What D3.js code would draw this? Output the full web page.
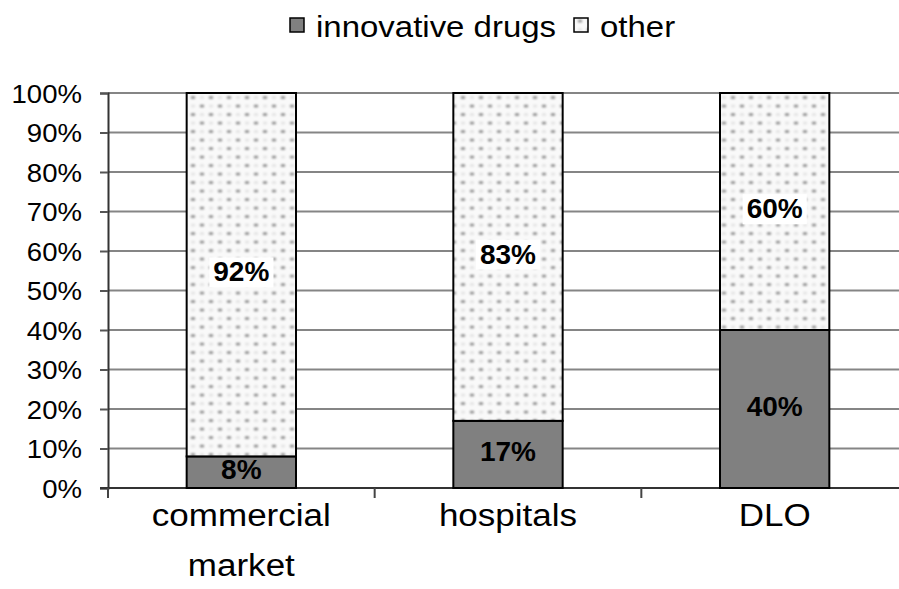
<!DOCTYPE html>
<html>
<head>
<meta charset="utf-8">
<script src="https://cdn.jsdelivr.net/npm/d3@7"></script>
<style>
  html, body { margin: 0; padding: 0; background: #fff; }
  svg { display: block; font-family: "Liberation Sans", Arial, sans-serif; }
</style>
</head>
<body>
<svg id="chart" width="899" height="589"></svg>
<script>
// Share of sales by channel (percent)
const categories = [["commercial", "market"], ["hospitals"], ["DLO"]];
const innovative = [8, 17, 40];
const other = [92, 83, 60];
const seriesNames = ["innovative drugs", "other"];
const yTicks = [0, 10, 20, 30, 40, 50, 60, 70, 80, 90, 100];

const svg = d3.select("#chart");
const W = 899, H = 589;
const plot = { left: 108, right: 908, top: 93, bottom: 488 };

// dotted fill for the "other" segment
const defs = svg.append("defs");
const blur = defs.append("filter").attr("id", "soft").attr("x", "-50%").attr("y", "-50%").attr("width", "200%").attr("height", "200%");
blur.append("feGaussianBlur").attr("stdDeviation", 0.9);
const pat = defs.append("pattern").attr("id", "dots")
  .attr("patternUnits", "userSpaceOnUse").attr("width", 18).attr("height", 17);
pat.append("rect").attr("width", 18).attr("height", 17).attr("fill", "#f9f9f9");
const dotG = pat.append("g").attr("filter", "url(#soft)");
[[4, 4], [13, 12.5]].forEach(([cx, cy]) => {
  dotG.append("ellipse").attr("cx", cx).attr("cy", cy).attr("rx", 2.4).attr("ry", 1.6).attr("fill", "#909090");
});
[[13, 4], [4, 12.5]].forEach(([cx, cy]) => {
  dotG.append("ellipse").attr("cx", cx).attr("cy", cy).attr("rx", 2.2).attr("ry", 1.5).attr("fill", "#e2e2e2");
});

const x = d3.scaleBand()
  .domain(d3.range(categories.length))
  .range([plot.left, plot.right])
  .paddingInner(0.59).paddingOuter(0.295);
const y = d3.scaleLinear().domain([0, 100]).range([plot.bottom, plot.top]);

// horizontally widened text helper
function stretched(sel, sx) {
  sel.attr("transform", function () {
    const t = d3.select(this);
    const tx = +t.attr("x"), ty = +t.attr("y");
    return `translate(${tx},${ty}) scale(${sx},1) translate(${-tx},${-ty})`;
  });
}

// gridlines
svg.append("g").selectAll("line").data(yTicks.filter(d => d > 0)).join("line")
  .attr("x1", plot.left).attr("x2", W)
  .attr("y1", d => y(d)).attr("y2", d => y(d))
  .attr("stroke", "#858585").attr("stroke-width", 2);

// y axis
const yAxis = svg.append("g").attr("transform", `translate(${plot.left},0)`)
  .call(d3.axisLeft(y).tickValues(yTicks).tickSize(8).tickPadding(18).tickFormat(d => d + "%"));
yAxis.select(".domain").attr("stroke", "#333").attr("stroke-width", 2);
yAxis.selectAll(".tick line").attr("stroke", "#555").attr("stroke-width", 2);
yAxis.selectAll(".tick text").attr("font-size", 26).attr("fill", "#000")
  .attr("font-family", "Liberation Sans, Arial, sans-serif").attr("dy", "0.36em")
  .attr("x", -26).attr("y", 0).call(stretched, 1.06);

// x axis baseline and category separators
const bounds = d3.range(categories.length + 1).map(i => plot.left + i * x.step());
svg.append("line").attr("x1", plot.left - 8).attr("x2", W)
  .attr("y1", plot.bottom).attr("y2", plot.bottom)
  .attr("stroke", "#333").attr("stroke-width", 2);
svg.append("g").selectAll("line").data(bounds).join("line")
  .attr("x1", d => d).attr("x2", d => d)
  .attr("y1", plot.bottom).attr("y2", plot.bottom + 10)
  .attr("stroke", "#444").attr("stroke-width", 2);

// stacked bars
const bars = svg.append("g");
categories.forEach((c, i) => {
  const x0 = x(i), bw = x.bandwidth();
  const a = innovative[i], b = other[i];
  bars.append("rect").attr("x", x0).attr("width", bw)
    .attr("y", y(a)).attr("height", y(0) - y(a))
    .attr("fill", "#808080").attr("stroke", "#000").attr("stroke-width", 2);
  bars.append("rect").attr("x", x0).attr("width", bw)
    .attr("y", y(a + b)).attr("height", y(a) - y(a + b))
    .attr("fill", "url(#dots)").attr("stroke", "#000").attr("stroke-width", 2);
});

// value labels
const labels = svg.append("g");
categories.forEach((c, i) => {
  const cx = x(i) + x.bandwidth() / 2;
  const segs = [
    { v: innovative[i], mid: innovative[i] / 2, box: false },
    { v: other[i], mid: innovative[i] + other[i] / 2, box: true }
  ];
  segs.forEach(s => {
    const g = labels.append("g");
    const t = g.append("text").attr("x", cx).attr("y", y(s.mid))
      .attr("text-anchor", "middle").attr("dy", "0.24em")
      .attr("font-size", 28).attr("font-weight", "bold").attr("fill", "#000")
      .text(s.v + "%");
    if (s.box) {
      const bb = t.node().getBBox();
      g.insert("rect", "text").attr("x", bb.x - 4).attr("y", bb.y + 1)
        .attr("width", bb.width + 8).attr("height", bb.height - 1).attr("fill", "#fff");
    }
  });
});

// category labels
const cat = svg.append("g");
categories.forEach((c, i) => {
  const cx = x(i) + x.bandwidth() / 2;
  c.forEach((line, k) => {
    cat.append("text").attr("x", cx).attr("y", 526 + k * 50)
      .attr("text-anchor", "middle").attr("font-size", 31).attr("fill", "#000")
      .text(line).call(stretched, 1.13);
  });
});

// legend
const legend = svg.append("g");
const swatches = [{ fill: "#808080", x: 290 }, { fill: "url(#dots)", x: 574 }];
seriesNames.forEach((name, i) => {
  const s = swatches[i];
  legend.append("rect").attr("x", s.x).attr("y", 18).attr("width", 14).attr("height", 14)
    .attr("fill", s.fill).attr("stroke", "#000").attr("stroke-width", 1.5);
  legend.append("text").attr("x", s.x + 26).attr("y", 37)
    .attr("font-size", 29).attr("fill", "#000").text(name).call(stretched, 1.137);
});
</script>
</body>
</html>
